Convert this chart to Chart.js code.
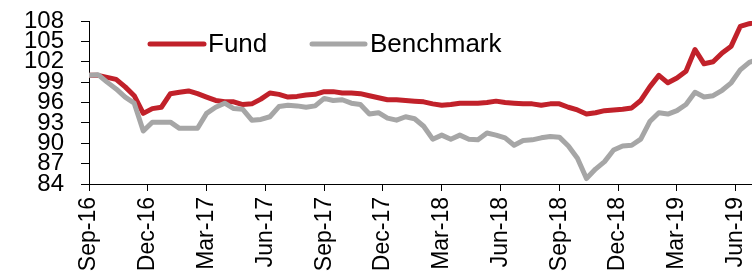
<!DOCTYPE html>
<html>
<head>
<meta charset="utf-8">
<script src="https://cdn.jsdelivr.net/npm/chart.js@4/dist/chart.umd.min.js"></script>
<style>
  html, body { margin: 0; padding: 0; background: #fff; }
  #wrap { width: 752px; height: 275px; }
</style>
</head>
<body>
<div id="wrap"><canvas id="myChart" width="752" height="275"></canvas></div>
<script>
// quarter tick labels on the x axis
const quarterLabels = ['Sep-16', 'Dec-16', 'Mar-17', 'Jun-17', 'Sep-17', 'Dec-17',
  'Mar-18', 'Jun-18', 'Sep-18', 'Dec-18', 'Mar-19', 'Jun-19']

const yTicks = [84, 87, 90, 93, 96, 99, 102, 105, 108]

// fortnightly readings, starting at Sep-16 (rebased to 100)
const fund = [
  100.0, 100.0, 99.7, 99.4, 98.3, 97.0, 94.4, 95.1, 95.3, 97.3,
  97.5, 97.7, 97.3, 96.8, 96.3, 96.1, 96.1, 95.7, 95.8, 96.5,
  97.4, 97.2, 96.8, 96.9, 97.1, 97.2, 97.6, 97.6, 97.4, 97.4,
  97.3, 97.0, 96.7, 96.4, 96.4, 96.3, 96.2, 96.1, 95.8, 95.6,
  95.7, 95.9, 95.9, 95.9, 96.0, 96.2, 96.0, 95.9, 95.8, 95.8,
  95.6, 95.8, 95.8, 95.3, 94.9, 94.3, 94.5, 94.8, 94.9, 95.0,
  95.2, 96.3, 98.3, 100.0, 98.9, 99.6, 100.6, 103.8, 101.7, 102.0,
  103.3, 104.3, 107.2, 107.6, 107.9]

const benchmark = [
  100.0, 100.1, 99.0, 98.0, 96.8, 95.9, 91.8, 93.1, 93.1, 93.1,
  92.2, 92.2, 92.2, 94.4, 95.3, 95.9, 95.1, 95.0, 93.4, 93.5,
  93.9, 95.4, 95.6, 95.5, 95.3, 95.5, 96.6, 96.3, 96.4, 95.9,
  95.7, 94.3, 94.5, 93.7, 93.4, 93.9, 93.6, 92.5, 90.6, 91.2,
  90.6, 91.2, 90.6, 90.5, 91.5, 91.2, 90.8, 89.7, 90.4, 90.5,
  90.8, 91.0, 90.9, 89.6, 87.8, 84.8, 86.2, 87.3, 89.0, 89.6,
  89.7, 90.6, 93.2, 94.5, 94.3, 94.8, 95.7, 97.5, 96.8, 97.0,
  97.8, 98.9, 100.8, 101.9, 102.4]

const WEEKS_PER_POINT = 2
const WEEKS_PER_QUARTER = 13
const X_MAX = 146.6

const FONT = "'Liberation Sans', Arial, sans-serif"
const RED = '#C1212A'
const GREY = '#A6A6A6'

const toPoints = arr => arr.map((v, i) => ({ x: i * WEEKS_PER_POINT, y: v }))

// legend sits inside the plot, top left
const legendInPlot = {
  id: 'legendInPlot',
  afterDraw(chart) {
    const ctx = chart.ctx
    const items = [
      { label: 'Fund', color: RED, x0: 150, x1: 204, tx: 208 },
      { label: 'Benchmark', color: GREY, x0: 312, x1: 365, tx: 370 }
    ]
    const y = 44
    ctx.save()
    ctx.lineCap = 'round'
    ctx.lineWidth = 5
    items.forEach(it => {
      ctx.strokeStyle = it.color
      ctx.beginPath()
      ctx.moveTo(it.x0, y)
      ctx.lineTo(it.x1, y)
      ctx.stroke()
      ctx.fillStyle = '#000'
      ctx.font = '26px ' + FONT
      ctx.textBaseline = 'middle'
      ctx.textAlign = 'left'
      ctx.fillText(it.label, it.tx, y + 1)
    })
    ctx.restore()
  }
}

const axisGrid = tickLength => ({
  display: true,
  drawOnChartArea: false,
  drawTicks: true,
  tickLength,
  color: '#000',
  lineWidth: 1
})

// pin the plot box: no extra room for overhanging tick labels
const noOverhang = s => {
  s.paddingLeft = 0
  s.paddingRight = 0
  s.paddingTop = 0
  s.paddingBottom = 0
}

const ctx = document.getElementById('myChart').getContext('2d')
const chart = new Chart(ctx, {
  type: 'line',
  data: {
    datasets: [
      {
        label: 'Fund',
        data: toPoints(fund),
        borderColor: RED,
        borderWidth: 5,
        order: 2
      },
      {
        label: 'Benchmark',
        data: toPoints(benchmark),
        borderColor: GREY,
        borderWidth: 5,
        order: 1
      }
    ]
  },
  options: {
    responsive: false,
    animation: false,
    layout: { padding: { top: 21, right: 0, bottom: 0, left: 0 } },
    elements: {
      point: { radius: 0 },
      line: { tension: 0, borderJoinStyle: 'round', borderCapStyle: 'round' }
    },
    plugins: {
      legend: { display: false },
      tooltip: { enabled: false }
    },
    scales: {
      x: {
        type: 'linear',
        min: 0,
        max: X_MAX,
        afterBuildTicks: s => { s.ticks = quarterLabels.map((_, i) => ({ value: i * WEEKS_PER_QUARTER })) },
        afterFit: s => { s.height = 91; noOverhang(s) },
        ticks: {
          autoSkip: false,
          minRotation: 90,
          maxRotation: 90,
          padding: 6,
          color: '#000',
          font: { family: FONT, size: 23 },
          callback: v => quarterLabels[Math.round(v / WEEKS_PER_QUARTER)]
        },
        grid: axisGrid(7),
        border: { display: true, color: '#000', width: 1 }
      },
      y: {
        min: 84,
        max: 108,
        afterBuildTicks: s => { s.ticks = yTicks.map(v => ({ value: v })) },
        afterFit: s => { s.width = 89; noOverhang(s) },
        ticks: {
          autoSkip: false,
          padding: 17,
          color: '#000',
          font: { family: FONT, size: 24 }
        },
        grid: axisGrid(8),
        border: { display: true, color: '#000', width: 1 }
      }
    }
  },
  plugins: [legendInPlot]
})
</script>
</body>
</html>
